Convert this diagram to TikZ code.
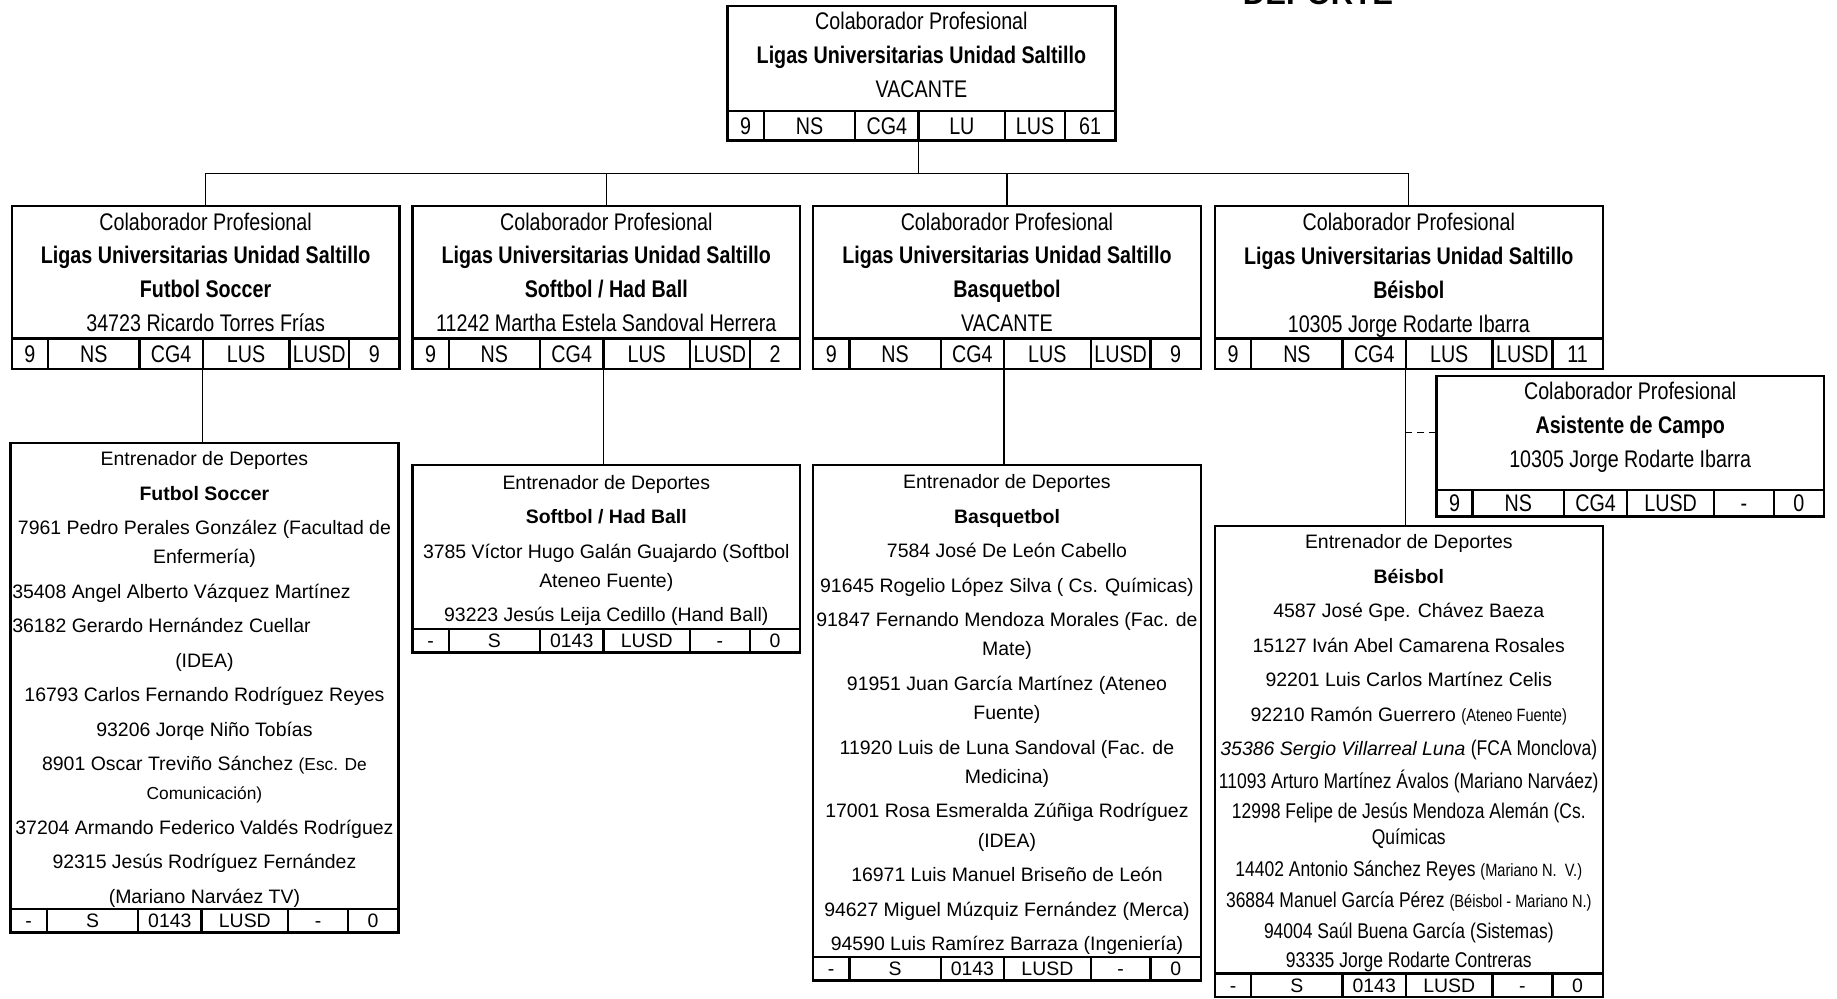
\documentclass[tikz,border=0pt]{standalone}
\usepackage{fontspec}
\setmainfont{Liberation Sans}
\newfontfamily\narrowsans{Liberation Sans}[FakeStretch=0.82]
\usetikzlibrary{positioning}

\newcommand\colfont{\narrowsans\fontsize{10.25}{14.5}\selectfont}
\newcommand\coachfont{\fontsize{8.3}{12.5}\selectfont}
\newcommand\midnarrow{\narrowsans\fontsize{9.1}{12.5}\selectfont}
\newcommand\smallnarrow{\narrowsans\fontsize{7.6}{9}\selectfont}
\newcommand\smallreg{\fontsize{7.4}{9}\selectfont}

% row of six code cells hung under a card
\newcommand\cardrow[3]{%
  \coordinate (#1-0) at (#1.south west);
  \foreach \txt [count=\i, remember=\i as \j (initially 0)] in {#3}{
    \pgfmathsetmacro\w{{0,31,78,54,74,51,43}[\i]}
    \node[#2,minimum width=\w*0.5pt] (#1-\i) at (#1-\j.north east) {\txt};
  }}

\begin{document}
\begin{tikzpicture}[x=0.5pt,y=-0.5pt,
  card/.style={draw,line width=1pt,outer sep=0pt,anchor=north west,minimum width=165.5pt,
    inner xsep=.5pt,inner ysep=0pt,align=center},
  colab/.style={card,font=\colfont,minimum height=#1},
  coach/.style={card,font=\coachfont,minimum height=#1},
  cell/.style={draw,line width=1pt,outer sep=0pt,anchor=north west,inner sep=0pt,minimum height=#1},
  ccell/.style={cell=#1,font=\colfont,text height=7.3pt,text depth=0pt},
  ecell/.style={cell=#1,font=\coachfont,text height=6pt,text depth=0pt},
  link/.style={line width=.5pt}
]
\useasboundingbox (0,0) rectangle (1568,852);
\node[font=\bfseries\fontsize{13.25}{14}\selectfont,anchor=base] (title) at (1125,3.5) {DEPORTE};

% head
\node[colab=45pt] (top) at (621,5)
  {Colaborador Profesional\\\textbf{Ligas Universitarias Unidad Saltillo}\\VACANTE\rule[-3pt]{0pt}{3pt}};
\cardrow{top}{ccell=12.5pt}{9,NS,CG4,LU,LUS,61}

% sport leads
\node[colab=56.5pt] (fut) at (10,176)
  {Colaborador Profesional\\\textbf{Ligas Universitarias Unidad Saltillo}\\\textbf{Futbol Soccer}\\34723 Ricardo Torres Frías};
\node[colab=56.5pt,right=5.5pt of fut] (sof)
  {Colaborador Profesional\\\textbf{Ligas Universitarias Unidad Saltillo}\\\textbf{Softbol / Had Ball}\\11242 Martha Estela Sandoval Herrera};
\node[colab=56.5pt,right=5.5pt of sof] (bas)
  {Colaborador Profesional\\\textbf{Ligas Universitarias Unidad Saltillo}\\\textbf{Basquetbol}\\VACANTE};
\node[colab=56.5pt,right=6pt of bas] (bei)
  {Colaborador Profesional\\\textbf{Ligas Universitarias Unidad Saltillo}\\\textbf{Béisbol}\\\smash{10305 Jorge Rodarte Ibarra}};
\cardrow{fut}{ccell=13pt}{9,NS,CG4,LUS,LUSD,9}
\cardrow{sof}{ccell=13pt}{9,NS,CG4,LUS,LUSD,2}
\cardrow{bas}{ccell=13pt}{9,NS,CG4,LUS,LUSD,9}
\cardrow{bei}{ccell=13pt}{9,NS,CG4,LUS,LUSD,11}

\node[colab=48.5pt] (asis) at (1226,321)
  {Colaborador Profesional\\\textbf{Asistente de Campo}\\10305 Jorge Rodarte Ibarra\rule[-7.2pt]{0pt}{7.2pt}};
\cardrow{asis}{ccell=11.5pt}{9,NS,CG4,LUSD,-,0}

% coaches
\node[coach=199pt] (efut) at (9,378)
  {\rule{0pt}{9pt}Entrenador de Deportes\\[2.2pt]\textbf{Futbol Soccer}\\[2.2pt]
   7961 Pedro Perales González (Facultad de\\Enfermería)\\[2.2pt]
   \makebox[164pt][l]{35408 Angel Alberto Vázquez Martínez}\\[2.2pt]
   \makebox[164pt][l]{36182 Gerardo Hernández Cuellar}\\[2.2pt]
   (IDEA)\\[2.2pt]
   16793 Carlos Fernando Rodríguez Reyes\\[2.2pt]
   93206 Jorqe Niño Tobías\\[2.2pt]
   8901 Oscar Treviño Sánchez {\smallreg (Esc. De}\\{\smallreg Comunicación)}\\[2.2pt]
   37204 Armando Federico Valdés Rodríguez\\[2.2pt]
   92315 Jesús Rodríguez Fernández\\[2.2pt]
   (Mariano Narváez TV)};
\node[coach=70pt] (esof) at (352,397)
  {\rule{0pt}{9pt}Entrenador de Deportes\\[2.2pt]\textbf{Softbol / Had Ball}\\[2.2pt]
   3785 Víctor Hugo Galán Guajardo (Softbol\\Ateneo Fuente)\\[2.2pt]
   93223 Jesús Leija Cedillo (Hand Ball)};
\node[coach=210pt] (ebas) at (694,397)
  {\rule{0pt}{9pt}Entrenador de Deportes\\[2.2pt]\textbf{Basquetbol}\\[2.2pt]
   7584 José De León Cabello\\[2.2pt]
   91645 Rogelio López Silva ( Cs. Químicas)\\[2.2pt]
   91847 Fernando Mendoza Morales (Fac. de\\Mate)\\[2.2pt]
   91951 Juan García Martínez (Ateneo\\Fuente)\\[2.2pt]
   11920 Luis de Luna Sandoval (Fac. de\\Medicina)\\[2.2pt]
   17001 Rosa Esmeralda Zúñiga Rodríguez\\(IDEA)\\[2.2pt]
   16971 Luis Manuel Briseño de León\\[2.2pt]
   94627 Miguel Múzquiz Fernández (Merca)\\[2.2pt]
   94590 Luis Ramírez Barraza (Ingeniería)};
\node[coach=191pt] (ebei) at (1037,449)
  {\rule{0pt}{9pt}Entrenador de Deportes\\[2.2pt]\textbf{Béisbol}\\[2.2pt]
   4587 José Gpe. Chávez Baeza\\[2.2pt]
   15127 Iván Abel Camarena Rosales\\[2.2pt]
   92201 Luis Carlos Martínez Celis\\[2.2pt]
   92210 Ramón Guerrero {\smallnarrow (Ateneo Fuente)}\\[2.2pt]
   \textit{35386 Sergio Villarreal Luna} {\midnarrow (FCA Monclova)}\\[1.5pt]
   {\midnarrow 11093 Arturo Martínez Ávalos (Mariano Narváez)}\\[.5pt]
   {\midnarrow 12998 Felipe de Jesús Mendoza Alemán (Cs.}\\[-1.5pt]
   {\midnarrow Químicas}\\[1pt]
   {\midnarrow 14402 Antonio Sánchez Reyes {\smallnarrow (Mariano N.\ \ V.)}}\\[1pt]
   {\midnarrow 36884 Manuel García Pérez {\smallnarrow (Béisbol - Mariano N.)}}\\[.5pt]
   {\midnarrow 94004 Saúl Buena García (Sistemas)}\\
   {\midnarrow 93335 Jorge Rodarte Contreras}};
\foreach \n in {efut,esof,ebas,ebei}{
  \cardrow{\n}{ecell=10pt}{-,S,0143,LUSD,-,0}
}

% links
\coordinate (bus) at (0,148);
\foreach \n in {fut,sof,bas,bei}
  \draw[link] (top-3.south east) -- (top-3.south east |- bus) -| (\n.north);
\foreach \n/\m in {fut/efut,sof/esof,bas/ebas,bei/ebei}
  \draw[link] (\n-3.south east) -- (\n-3.south east |- \m.north);
\draw[link,dash pattern=on 3.3pt off 1.8pt] (asis.west) -- (asis.west -| bei-3.south east);
\end{tikzpicture}
\end{document}
